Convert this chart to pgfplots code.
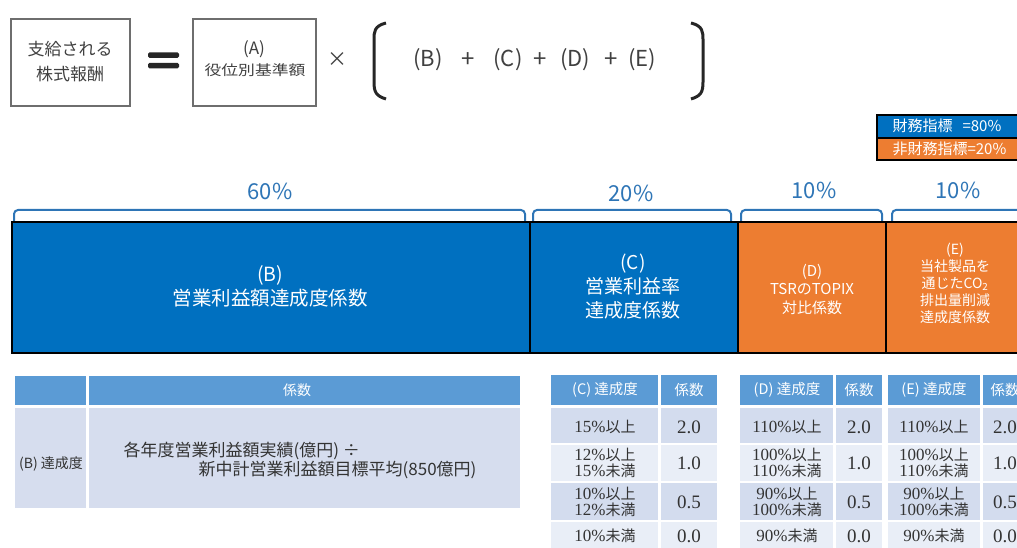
\documentclass[border=0pt]{standalone}
\usepackage{pgfplots}
\pgfplotsset{compat=1.18}
\usepackage{fontspec}
\setmainfont{Noto Sans CJK JP}
\newfontfamily\sn{Liberation Serif}
\usepackage{graphicx}

\definecolor{barblue}{HTML}{0070C0}
\definecolor{barorange}{HTML}{ED7D31}
\definecolor{brack}{HTML}{2E75B6}
\definecolor{hdr}{HTML}{5B9BD5}
\definecolor{rowD}{HTML}{D3DCEE}
\definecolor{rowL}{HTML}{E9EEF7}
\definecolor{bodyB}{HTML}{D6DDEE}
\definecolor{txt}{HTML}{404040}
\definecolor{ttxt}{HTML}{333333}
\definecolor{boxline}{HTML}{6E6E6E}

\newcommand{\fs}[2]{\fontsize{#1}{#2}\selectfont}

% table background: x1, xdiv1, xdiv2, x2
\newcommand{\tblbg}[4]{%
 \fill[hdr] (#1,375) rectangle (#2,405);
 \fill[hdr] (#3,375) rectangle (#4,405);
 \fill[rowD] (#1,408) rectangle (#2,443);
 \fill[rowD] (#3,408) rectangle (#4,443);
 \fill[rowL] (#1,445) rectangle (#2,481);
 \fill[rowL] (#3,445) rectangle (#4,481);
 \fill[rowD] (#1,483) rectangle (#2,520);
 \fill[rowD] (#3,483) rectangle (#4,520);
 \fill[rowL] (#1,522) rectangle (#2,560);
 \fill[rowL] (#3,522) rectangle (#4,560);
}
% table text: cx1, cx2, header, r1, r2, r3, r4
\newcommand{\tbltxt}[7]{%
 \node[text=white,font=\fs{14.5}{15}] at (#1,390) {#3};
 \node[text=white,font=\fs{14.5}{15}] at (#2,390) {係数};
 \node[text=ttxt,font=\fs{15}{16},align=center] at (#1,427) {#4};
 \node[text=ttxt,font=\fs{15}{16},align=center] at (#1,463) {#5};
 \node[text=ttxt,font=\fs{15}{16},align=center] at (#1,502) {#6};
 \node[text=ttxt,font=\fs{15}{16},align=center] at (#1,536) {#7};
 \node[text=ttxt,font=\sn\fs{19}{19}] at (#2,427) {2.0};
 \node[text=ttxt,font=\sn\fs{19}{19}] at (#2,463) {1.0};
 \node[text=ttxt,font=\sn\fs{19}{19}] at (#2,502) {0.5};
 \node[text=ttxt,font=\sn\fs{19}{19}] at (#2,536) {0.0};
}
\newcommand{\p}[1]{{\sn\fontsize{17}{16}\selectfont #1\%}}

\begin{document}
\begin{tikzpicture}
\begin{axis}[
  width=1017pt, height=548pt, scale only axis,
  xmin=0, xmax=1017, ymin=0, ymax=548, y dir=reverse,
  hide axis, clip=true,
  xbar stacked, bar width=131,
]
% stacked segments (pixel widths of the segments B, C, D, E)
\addplot[draw=none, fill=none] coordinates {(12,288)};
\addplot[fill=barblue, draw=black, line width=2pt] coordinates {(518,288)};
\addplot[fill=barblue, draw=black, line width=2pt] coordinates {(208,288)};
\addplot[fill=barorange, draw=black, line width=2pt] coordinates {(148,288)};
\addplot[fill=barorange, draw=black, line width=2pt] coordinates {(150,288)};
\end{axis}

\begin{scope}[shift={(current axis.north west)}, x=1pt, y=-1pt]
\clip (0,0) rectangle (1017,548);

% bar texts
\node[text=white, align=center, font=\fs{19.5}{24}] at (270,286) {(B)\\営業利益額達成度係数};
\node[text=white, align=center, font=\fs{19}{24}] at (633,287) {(C)\\営業利益率\\達成度係数};
\node[text=white, align=center, font=\fs{15}{18.5}] at (812,289) {(D)\\TSRのTOPIX\\対比係数};
\node[text=white, align=center, font=\fs{14}{17}] at (955,283) {(E)\\当社製品を\\通じたCO\textsubscript{2}\\排出量削減\\達成度係数};

% brackets and percentages
\draw[brack, line width=2pt, rounded corners=4pt] (14,221) -- (14,210) -- (525,210) -- (525,221);
\draw[brack, line width=2pt, rounded corners=4pt] (533,221) -- (533,210) -- (731,210) -- (731,221);
\draw[brack, line width=2pt, rounded corners=4pt] (741,221) -- (741,210) -- (882,210) -- (882,221);
\draw[brack, line width=2pt, rounded corners=4pt] (892,221) -- (892,210) -- (1040,210) -- (1040,221);
\node[text=brack, font=\fs{22}{24}] at (270,191) {60\%};
\node[text=brack, font=\fs{22}{24}] at (631,193) {20\%};
\node[text=brack, font=\fs{22}{24}] at (814,190) {10\%};
\node[text=brack, font=\fs{22}{24}] at (958,190) {10\%};

% legend box (financial / non-financial)
\fill[barblue] (877,115) rectangle (1030,138);
\fill[barorange] (877,138) rectangle (1030,160);
\draw[black, line width=1.8pt] (877,115) rectangle (1030,160);
\draw[black, line width=1.2pt] (877,138) -- (1030,138);
\node[text=white, anchor=west, font=\fs{15}{15}] at (889,126) {財務指標\hspace{10pt}=80\%};
\node[text=white, anchor=west, font=\fs{15}{15}] at (889,149) {非財務指標=20\%};

% top formula
\draw[boxline, line width=1.5pt] (11,19) rectangle (130,106);
\node[text=txt, align=center, font=\fs{17}{25}] at (70,62) {支給される\\株式報酬};
\fill[black!85, rounded corners=1.5pt] (148,52.5) rectangle (179,58);
\fill[black!85, rounded corners=1.5pt] (148,63) rectangle (179,68.5);
\draw[boxline, line width=1.5pt] (193,19) rectangle (316,106);
\node[text=txt, font=\fs{17}{17}] at (254,49) {(A)};
\node[text=txt, font=\fs{14}{15}] at (255,70) {\scalebox{1.2}[1]{役位別基準額}};
\node[text=txt, font=\fs{20}{20}] at (337,60) {×};
\draw[black!85, line width=3pt] (386,23) .. controls (374,26) and (374,32) .. (374,40) -- (374,82) .. controls (374,92) and (376,96) .. (386,99);
\draw[black!85, line width=3pt] (691,23) .. controls (703,26) and (703,32) .. (703,40) -- (703,82) .. controls (703,92) and (701,96) .. (691,99);
\node[text=txt, font=\fs{22}{22}] at (428,60) {(B)};
\node[text=txt, font=\fs{24}{24}] at (468,60) {+};
\node[text=txt, font=\fs{22}{22}] at (508,60) {(C)};
\node[text=txt, font=\fs{24}{24}] at (540,60) {+};
\node[text=txt, font=\fs{22}{22}] at (575,60) {(D)};
\node[text=txt, font=\fs{24}{24}] at (611,60) {+};
\node[text=txt, font=\fs{22}{22}] at (642,60) {(E)};

% table (B)
\fill[hdr] (15,376) rectangle (86,405);
\fill[hdr] (89,376) rectangle (520,405);
\fill[bodyB] (15,408) rectangle (86,508);
\fill[bodyB] (89,408) rectangle (520,508);
\node[text=white, font=\fs{14}{14}] at (297,390) {係数};
\node[text=ttxt, font=\fs{14}{14}] at (51,464) {(B) 達成度};
\node[text=ttxt, anchor=west, font=\fs{17}{18}] at (120,451) {各年度営業利益額実績(億円) ÷};
\node[text=ttxt, anchor=east, font=\fs{17}{18}] at (480,470) {新中計営業利益額目標平均(850億円)};

% tables (C), (D), (E)
\tblbg{551}{658}{661}{717}
\tbltxt{605}{689}{(C) 達成度}{\p{15}以上}{\p{12}以上\\\p{15}未満}{\p{10}以上\\\p{12}未満}{\p{10}未満}
\tblbg{740}{833}{836}{882}
\tbltxt{787}{859}{(D) 達成度}{\p{110}以上}{\p{100}以上\\\p{110}未満}{\p{90}以上\\\p{100}未満}{\p{90}未満}
\tblbg{888}{980}{983}{1040}
\tbltxt{934}{1005}{(E) 達成度}{\p{110}以上}{\p{100}以上\\\p{110}未満}{\p{90}以上\\\p{100}未満}{\p{90}未満}
\end{scope}
\pgfresetboundingbox
\useasboundingbox (current axis.south west) rectangle (current axis.north east);
\end{tikzpicture}
\end{document}
